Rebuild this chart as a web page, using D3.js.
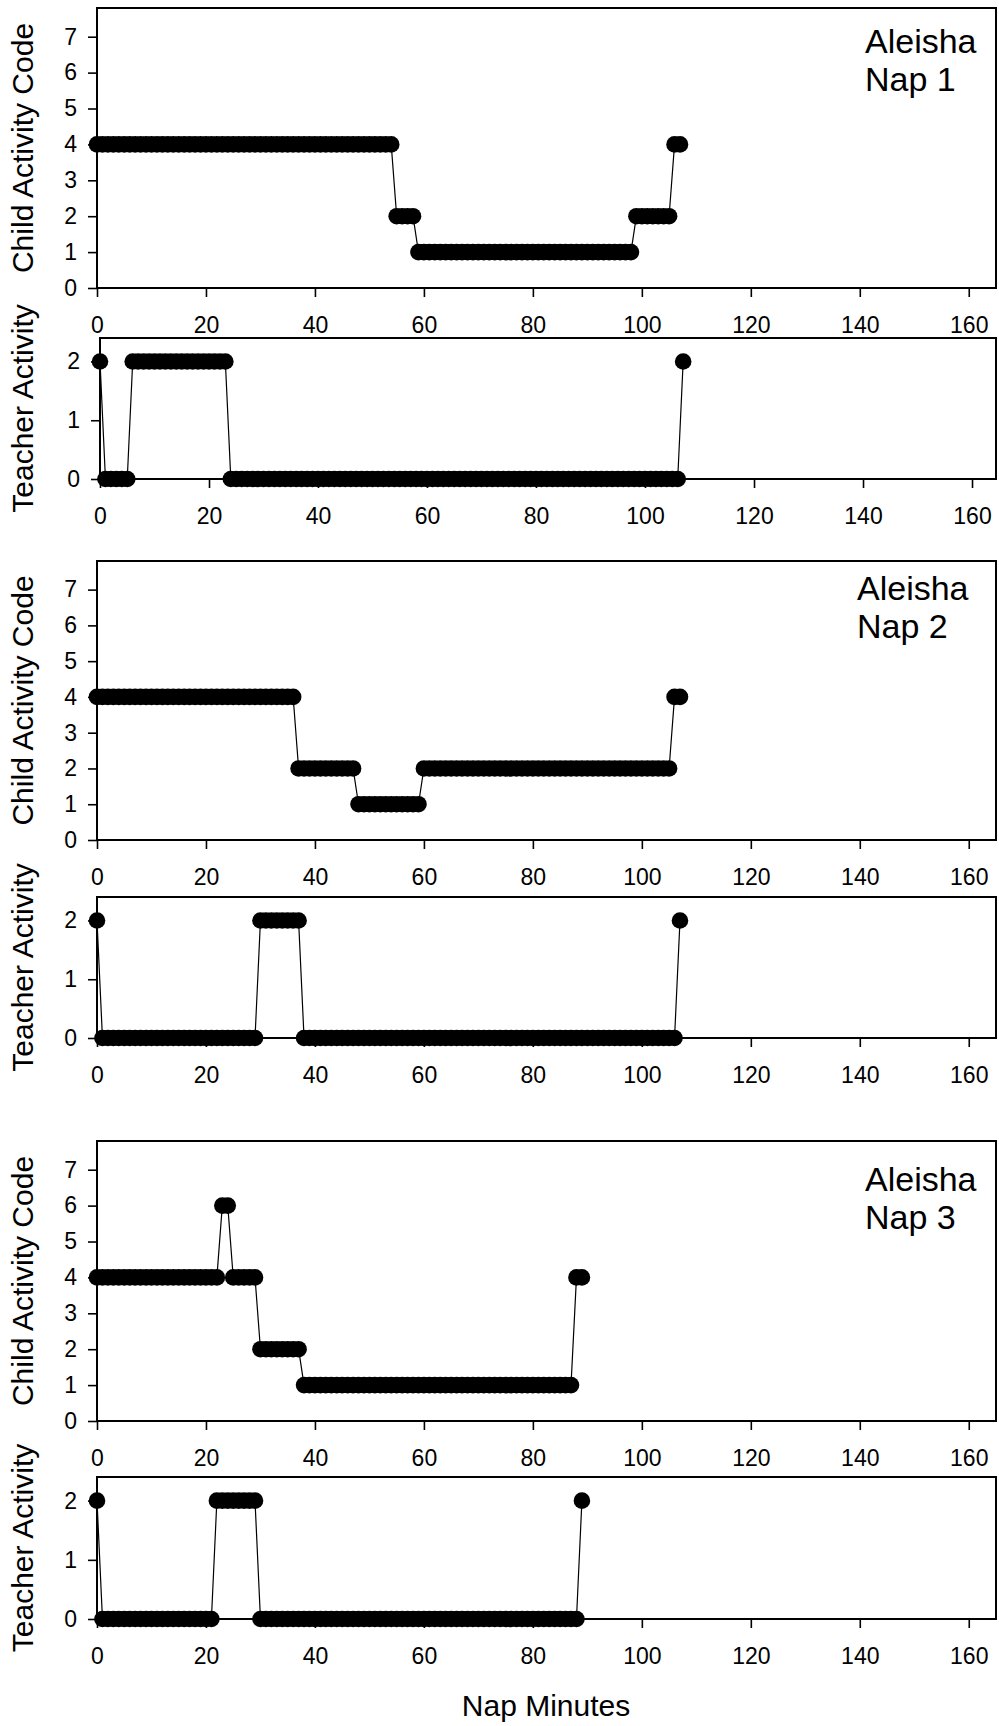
<!DOCTYPE html>
<html>
<head>
<meta charset="utf-8">
<script src="https://cdn.jsdelivr.net/npm/d3@7"></script>
<style>
  body { margin: 0; background: #fff; }
  svg { display: block; font-family: Arial, "Liberation Sans", sans-serif; }
  .tick text { font-size: 23px; fill: #000; }
  .tick line { stroke: #000; stroke-width: 1.6; }
</style>
</head>
<body>
<svg id="chart" width="999" height="1726"></svg>
<script>
// Per-minute codes (index = nap minute).
const childNap1 = [
  4, 4, 4, 4, 4, 4, 4, 4, 4, 4,
  4, 4, 4, 4, 4, 4, 4, 4, 4, 4,
  4, 4, 4, 4, 4, 4, 4, 4, 4, 4,
  4, 4, 4, 4, 4, 4, 4, 4, 4, 4,
  4, 4, 4, 4, 4, 4, 4, 4, 4, 4,
  4, 4, 4, 4, 4, 2, 2, 2, 2, 1,
  1, 1, 1, 1, 1, 1, 1, 1, 1, 1,
  1, 1, 1, 1, 1, 1, 1, 1, 1, 1,
  1, 1, 1, 1, 1, 1, 1, 1, 1, 1,
  1, 1, 1, 1, 1, 1, 1, 1, 1, 2,
  2, 2, 2, 2, 2, 2, 4, 4
];
const teacherNap1 = [
  2, 0, 0, 0, 0, 0, 2, 2, 2, 2,
  2, 2, 2, 2, 2, 2, 2, 2, 2, 2,
  2, 2, 2, 2, 0, 0, 0, 0, 0, 0,
  0, 0, 0, 0, 0, 0, 0, 0, 0, 0,
  0, 0, 0, 0, 0, 0, 0, 0, 0, 0,
  0, 0, 0, 0, 0, 0, 0, 0, 0, 0,
  0, 0, 0, 0, 0, 0, 0, 0, 0, 0,
  0, 0, 0, 0, 0, 0, 0, 0, 0, 0,
  0, 0, 0, 0, 0, 0, 0, 0, 0, 0,
  0, 0, 0, 0, 0, 0, 0, 0, 0, 0,
  0, 0, 0, 0, 0, 0, 0, 2
];
const childNap2 = [
  4, 4, 4, 4, 4, 4, 4, 4, 4, 4,
  4, 4, 4, 4, 4, 4, 4, 4, 4, 4,
  4, 4, 4, 4, 4, 4, 4, 4, 4, 4,
  4, 4, 4, 4, 4, 4, 4, 2, 2, 2,
  2, 2, 2, 2, 2, 2, 2, 2, 1, 1,
  1, 1, 1, 1, 1, 1, 1, 1, 1, 1,
  2, 2, 2, 2, 2, 2, 2, 2, 2, 2,
  2, 2, 2, 2, 2, 2, 2, 2, 2, 2,
  2, 2, 2, 2, 2, 2, 2, 2, 2, 2,
  2, 2, 2, 2, 2, 2, 2, 2, 2, 2,
  2, 2, 2, 2, 2, 2, 4, 4
];
const teacherNap2 = [
  2, 0, 0, 0, 0, 0, 0, 0, 0, 0,
  0, 0, 0, 0, 0, 0, 0, 0, 0, 0,
  0, 0, 0, 0, 0, 0, 0, 0, 0, 0,
  2, 2, 2, 2, 2, 2, 2, 2, 0, 0,
  0, 0, 0, 0, 0, 0, 0, 0, 0, 0,
  0, 0, 0, 0, 0, 0, 0, 0, 0, 0,
  0, 0, 0, 0, 0, 0, 0, 0, 0, 0,
  0, 0, 0, 0, 0, 0, 0, 0, 0, 0,
  0, 0, 0, 0, 0, 0, 0, 0, 0, 0,
  0, 0, 0, 0, 0, 0, 0, 0, 0, 0,
  0, 0, 0, 0, 0, 0, 0, 2
];
const childNap3 = [
  4, 4, 4, 4, 4, 4, 4, 4, 4, 4,
  4, 4, 4, 4, 4, 4, 4, 4, 4, 4,
  4, 4, 4, 6, 6, 4, 4, 4, 4, 4,
  2, 2, 2, 2, 2, 2, 2, 2, 1, 1,
  1, 1, 1, 1, 1, 1, 1, 1, 1, 1,
  1, 1, 1, 1, 1, 1, 1, 1, 1, 1,
  1, 1, 1, 1, 1, 1, 1, 1, 1, 1,
  1, 1, 1, 1, 1, 1, 1, 1, 1, 1,
  1, 1, 1, 1, 1, 1, 1, 1, 4, 4
];
const teacherNap3 = [
  2, 0, 0, 0, 0, 0, 0, 0, 0, 0,
  0, 0, 0, 0, 0, 0, 0, 0, 0, 0,
  0, 0, 2, 2, 2, 2, 2, 2, 2, 2,
  0, 0, 0, 0, 0, 0, 0, 0, 0, 0,
  0, 0, 0, 0, 0, 0, 0, 0, 0, 0,
  0, 0, 0, 0, 0, 0, 0, 0, 0, 0,
  0, 0, 0, 0, 0, 0, 0, 0, 0, 0,
  0, 0, 0, 0, 0, 0, 0, 0, 0, 0,
  0, 0, 0, 0, 0, 0, 0, 0, 0, 2
];

const minuteTicks = [0, 20, 40, 60, 80, 100, 120, 140, 160];
const childTicks = [0, 1, 2, 3, 4, 5, 6, 7];
const teacherTicks = [0, 1, 2];
const childName = "Aleisha";
const napNames = ["Nap 1", "Nap 2", "Nap 3"];
const childTitle = "Child Activity Code";
const teacherTitle = "Teacher Activity";
const xTitle = "Nap Minutes";

(function () {
  "use strict";

  const svg = d3.select("#chart");

  // Panel frames, in page pixels.
  const panels = [
    { values: childNap1, ticks: childTicks, yMax: 7.8, xMax: 165, left: 97, right: 996, top: 8, bottom: 288,
      title: childTitle, label: { x: 865, y: 53 }, nap: 0 },
    { values: teacherNap1, ticks: teacherTicks, yMax: 2.4, xMax: 164.4, left: 100, right: 996, top: 338, bottom: 479,
      title: teacherTitle },
    { values: childNap2, ticks: childTicks, yMax: 7.8, xMax: 165, left: 97, right: 996, top: 561, bottom: 840,
      title: childTitle, label: { x: 857, y: 600 }, nap: 1 },
    { values: teacherNap2, ticks: teacherTicks, yMax: 2.4, xMax: 165, left: 97, right: 996, top: 897, bottom: 1038,
      title: teacherTitle },
    { values: childNap3, ticks: childTicks, yMax: 7.8, xMax: 165, left: 97, right: 996, top: 1141, bottom: 1421,
      title: childTitle, label: { x: 865, y: 1191 }, nap: 2 },
    { values: teacherNap3, ticks: teacherTicks, yMax: 2.4, xMax: 165, left: 97, right: 996, top: 1477, bottom: 1619,
      title: teacherTitle },
  ];

  function drawPanel(p) {
    const x = d3.scaleLinear().domain([0, p.xMax]).range([p.left, p.right]);
    const y = d3.scaleLinear().domain([0, p.yMax]).range([p.bottom, p.top]);
    const g = svg.append("g");

    const xAxis = g.append("g")
      .attr("transform", `translate(0,${p.bottom})`)
      .call(d3.axisBottom(x).tickValues(minuteTicks).tickFormat(d3.format("d"))
        .tickSize(9).tickPadding(20).tickSizeOuter(0));
    const yAxis = g.append("g")
      .attr("transform", `translate(${p.left},0)`)
      .call(d3.axisLeft(y).tickValues(p.ticks).tickFormat(d3.format("d"))
        .tickSize(9).tickPadding(11).tickSizeOuter(0));
    xAxis.select(".domain").remove();
    yAxis.select(".domain").remove();

    g.append("rect")
      .attr("x", p.left)
      .attr("y", p.top)
      .attr("width", p.right - p.left)
      .attr("height", p.bottom - p.top)
      .attr("fill", "none")
      .attr("stroke", "#000")
      .attr("stroke-width", 2);

    // Connecting line under the markers.
    const pts = p.values.map((v, i) => ({ m: i, v: v }));
    g.append("path")
      .datum(pts)
      .attr("fill", "none")
      .attr("stroke", "#000")
      .attr("stroke-width", 1.2)
      .attr("d", d3.line().x((d) => x(d.m)).y((d) => y(d.v)));
    g.append("g")
      .selectAll("circle")
      .data(pts)
      .join("circle")
      .attr("cx", (d) => x(d.m))
      .attr("cy", (d) => y(d.v))
      .attr("r", 8.3)
      .attr("fill", "#000");

    g.append("text")
      .attr("transform", `translate(33,${(p.top + p.bottom) / 2}) rotate(-90)`)
      .attr("text-anchor", "middle")
      .attr("font-size", 30)
      .text(p.title);

    if (p.label) {
      const t = g.append("text").attr("font-size", 34);
      t.append("tspan").attr("x", p.label.x).attr("y", p.label.y).text(childName);
      t.append("tspan").attr("x", p.label.x).attr("y", p.label.y + 38).text(napNames[p.nap]);
    }
  }

  panels.forEach(drawPanel);

  svg.append("text")
    .attr("x", 546)
    .attr("y", 1716)
    .attr("text-anchor", "middle")
    .attr("font-size", 30)
    .text(xTitle);
})();
</script>
</body>
</html>
